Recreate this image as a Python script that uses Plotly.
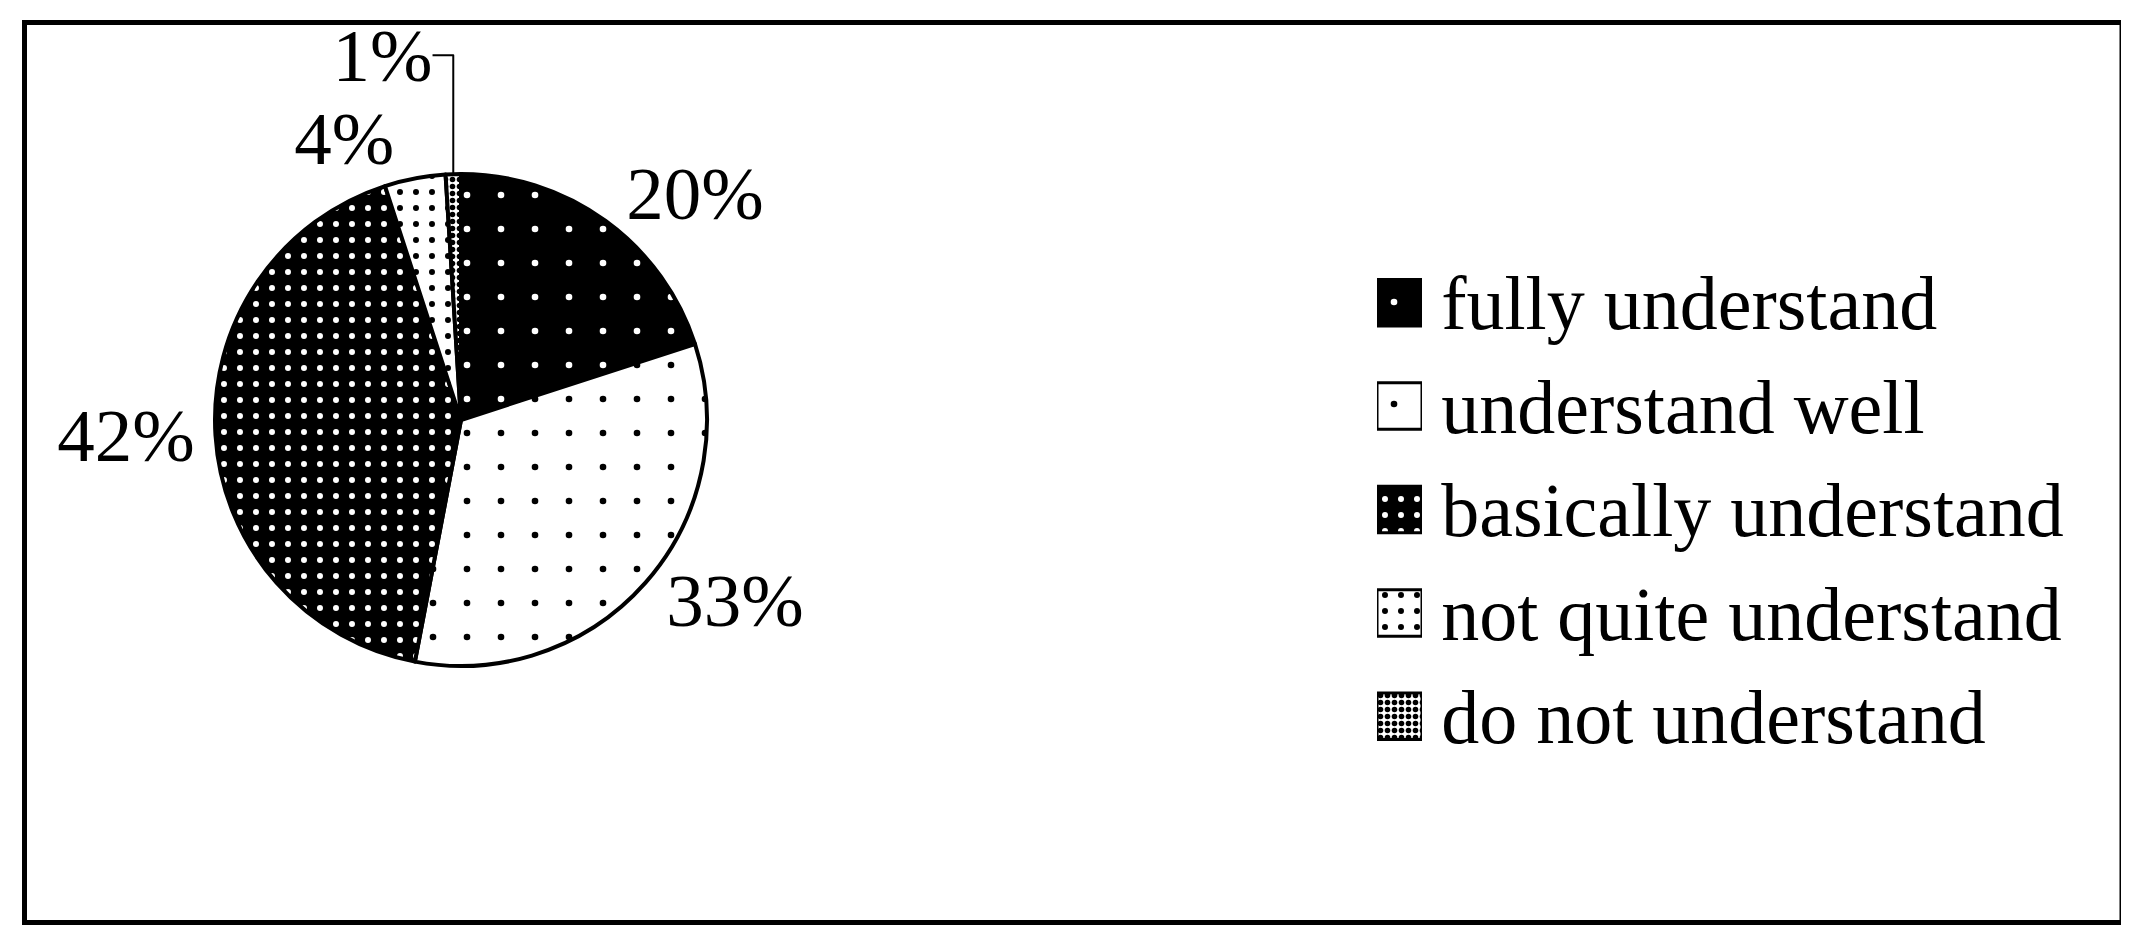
import plotly.graph_objects as go

W, H = 2129, 929

categories = ["fully understand", "understand well", "basically understand",
              "not quite understand", "do not understand"]
shares = [20, 33, 42, 4, 1]

# black & white print style: fill pattern per slice
bg = ["black", "white", "black", "white", "white"]
fg = ["white", "black", "white", "black", "black"]
dot_size = [34, 34, 16, 16, 7]
dot_solid = [0.03, 0.03, 0.11, 0.11, 0.5]

pattern = dict(shape=["."] * 5, fgcolor=fg, bgcolor=bg,
               size=dot_size, solidity=dot_solid, fillmode="replace")

fig = go.Figure()

fig.add_trace(go.Pie(
    labels=categories,
    values=shares,
    sort=False,
    direction="clockwise",
    rotation=0,
    texttemplate="%{value}%",
    textposition="outside",
    textfont=dict(family="Liberation Serif", size=75, color="black"),
    marker=dict(colors=bg, line=dict(color="black", width=4), pattern=pattern),
    domain=dict(x=[207 / W, 699 / W], y=[(H - 658) / H, (H - 166) / H]),
    showlegend=False,
    hoverinfo="skip",
))

# legend: one patterned swatch per category, names as tick labels
fig.add_trace(go.Bar(
    x=[1] * len(categories),
    y=categories,
    orientation="h",
    width=0.45,
    marker=dict(color="black", line=dict(color="black", width=3), pattern=pattern),
    xaxis="x2", yaxis="y2",
    showlegend=False,
    hoverinfo="skip",
))

fig.update_layout(
    width=W, height=H,
    margin=dict(l=0, r=0, t=0, b=0),
    paper_bgcolor="white",
    plot_bgcolor="white",
    font=dict(family="Liberation Serif", color="black"),
    xaxis2=dict(domain=[1369 / W, 1414 / W], range=[0, 1], visible=False,
                anchor="y2"),
    yaxis2=dict(domain=[(H - 760) / H, (H - 243) / H], anchor="x2",
                type="category", autorange="reversed", side="right",
                showgrid=False, zeroline=False, showline=False,
                ticks="outside", ticklen=3, tickcolor="rgba(0,0,0,0)",
                tickfont=dict(family="Liberation Serif", size=76, color="black")),
    shapes=[dict(type="rect", xref="paper", yref="paper",
                 x0=16.5 / W, x1=2114 / W, y0=(H - 914.5) / H, y1=(H - 14.5) / H,
                 line=dict(color="black", width=5))],
)

fig.write_html("out.html")
